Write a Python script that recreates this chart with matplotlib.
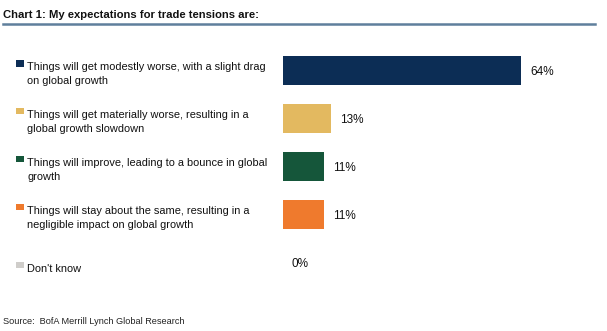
import matplotlib
matplotlib.use("Agg")
import matplotlib.pyplot as plt
from matplotlib.transforms import blended_transform_factory
from matplotlib.patches import Rectangle
from matplotlib.lines import Line2D

categories = [
    "Things will get modestly worse, with a slight drag\non global growth",
    "Things will get materially worse, resulting in a\nglobal growth slowdown",
    "Things will improve, leading to a bounce in global\ngrowth",
    "Things will stay about the same, resulting in a\nnegligible impact on global growth",
    "Don't know",
]
values = [64, 13, 11, 11, 0]
value_labels = ["64%", "13%", "11%", "11%", "0%"]
colors = ["#0c2d55", "#e3b960", "#15563a", "#ef7a2d", "#cfcdca"]

title = "Chart 1: My expectations for trade tensions are:"
source = "Source:  BofA Merrill Lynch Global Research"

W, H = 607, 331
fig = plt.figure(figsize=(W / 100, H / 100), dpi=100)
fig.patch.set_facecolor("white")

fam = ["Liberation Sans", "DejaVu Sans"]

# axes for bars
ax_left = 283 / W
ax_right = 581 / W
ax_top = 1 - 47 / H
ax_bottom = 1 - 286 / H
ax = fig.add_axes([ax_left, ax_bottom, ax_right - ax_left, ax_top - ax_bottom])
ax.set_xlim(0, 80)
ax.set_ylim(len(categories) - 0.5, -0.5)
ax.axis("off")

ypos = list(range(len(categories)))
ax.barh(ypos, values, height=0.61, color=colors, edgecolor="none")

for y, v, lab in zip(ypos, values, value_labels):
    ax.annotate(lab, xy=(v, y), xytext=(9, -1.5), textcoords="offset pixels",
                ha="left", va="center", fontsize=8.5, family=fam, color="#111111")

# category labels with colored squares
px = 1 / 47.7  # data units per pixel vertically
tr = blended_transform_factory(fig.transFigure, ax.transData)
for y, cat, c in zip(ypos, categories, colors):
    nlines = cat.count("\n") + 1
    if nlines == 2:
        center = y + 3.5 * px
        first_line = center - 7 * px
    else:
        center = y + 7 * px
        first_line = center
    ax.text(27 / W, center, cat, transform=tr, ha="left", va="center",
            fontsize=7.9, family=fam, color="#111111", linespacing=1.5,
            clip_on=False)
    sq_h = 6.5 * px
    rect = Rectangle((16 / W, first_line - 4 * px - sq_h / 2), 8 / W, sq_h,
                     transform=tr, facecolor=c, edgecolor="none", clip_on=False)
    ax.add_artist(rect)

# title and underline
fig.text(3 / W, 1 - 14.5 / H, title, ha="left", va="center", fontsize=8.1,
         fontweight="bold", family=fam, color="#111111")
fig.add_artist(Line2D([3 / W, 595 / W], [1 - 23.5 / H, 1 - 23.5 / H],
                      color="#5f7f9c", linewidth=1.8, transform=fig.transFigure))

# source
fig.text(3 / W, 1 - 322 / H, source, ha="left", va="center", fontsize=6.6,
         family=fam, color="#222222")

fig.savefig("out.png", dpi=100)
